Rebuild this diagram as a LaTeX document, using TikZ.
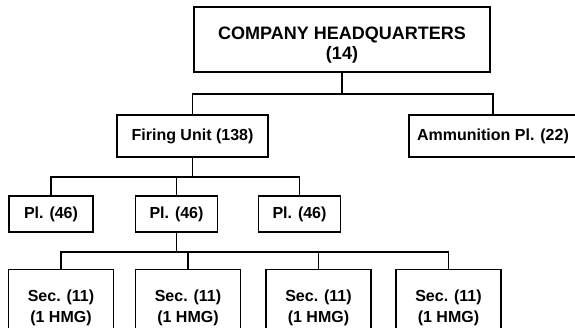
\documentclass[tikz,border=0pt]{standalone}
\usepackage{fontspec}
\setmainfont{Liberation Sans}
\usetikzlibrary{positioning}
\tikzset{
  unitbox/.style={draw,line width=1.7pt,align=center,inner sep=0pt,
    font=\fontsize{16}{21}\selectfont\bfseries},
  link/.style={line width=1.7pt}
}

\begin{document}
\begin{tikzpicture}[x=1pt,y=-1pt]
  \useasboundingbox (0,0) rectangle (575,328);
  \clip (0,0) rectangle (575,328);
  \node[unitbox,minimum width=296pt,minimum height=65pt,
    font=\fontsize{18}{20}\selectfont\bfseries] (hq) at (342,39.5) {\rule{0pt}{23pt}COMPANY HEADQUARTERS\\(14)};
  \node[unitbox,minimum width=151pt,minimum height=42pt] (fire) at (192.5,136) {Firing Unit (138)};
  \node[unitbox,minimum width=168pt,minimum height=42pt] (ammo) at (493,136) {Ammunition Pl. (22)};
  \foreach \n/\x/\w in {1/51/84,2/176.5/82,3/299.5/82}
    \node[unitbox,minimum width=\w pt,minimum height=36pt] (pl\n) at (\x,214) {Pl. (46)};
  \foreach \n/\x in {1/61,2/188,3/318.5,4/448.5}
    \node[unitbox,minimum width=105pt,minimum height=76pt] (sec\n) at (\x,307.5) {Sec. (11)\\(1 HMG)};
  % bus lines
  \coordinate (hqbus) at (0,94);
  \coordinate (plbus) at (0,177);
  \coordinate (secbus) at (0,252);
  \draw[link] (hq.south) -- (hq.south |- hqbus);
  \draw[link] (fire.north) |- (ammo.north |- hqbus) -- (ammo.north);
  \draw[link] (fire.south) -- (fire.south |- plbus);
  \draw[link] (pl1.north) |- (pl3.north |- plbus) -- (pl3.north);
  \draw[link] (pl2.north) -- (pl2.north |- plbus);
  \draw[link] (pl2.south) -- (pl2.south |- secbus);
  \draw[link] (sec1.north) |- (sec4.north |- secbus) -- (sec4.north);
  \foreach \n in {2,3}
    \draw[link] (sec\n.north) -- (sec\n.north |- secbus);
\end{tikzpicture}
\end{document}
